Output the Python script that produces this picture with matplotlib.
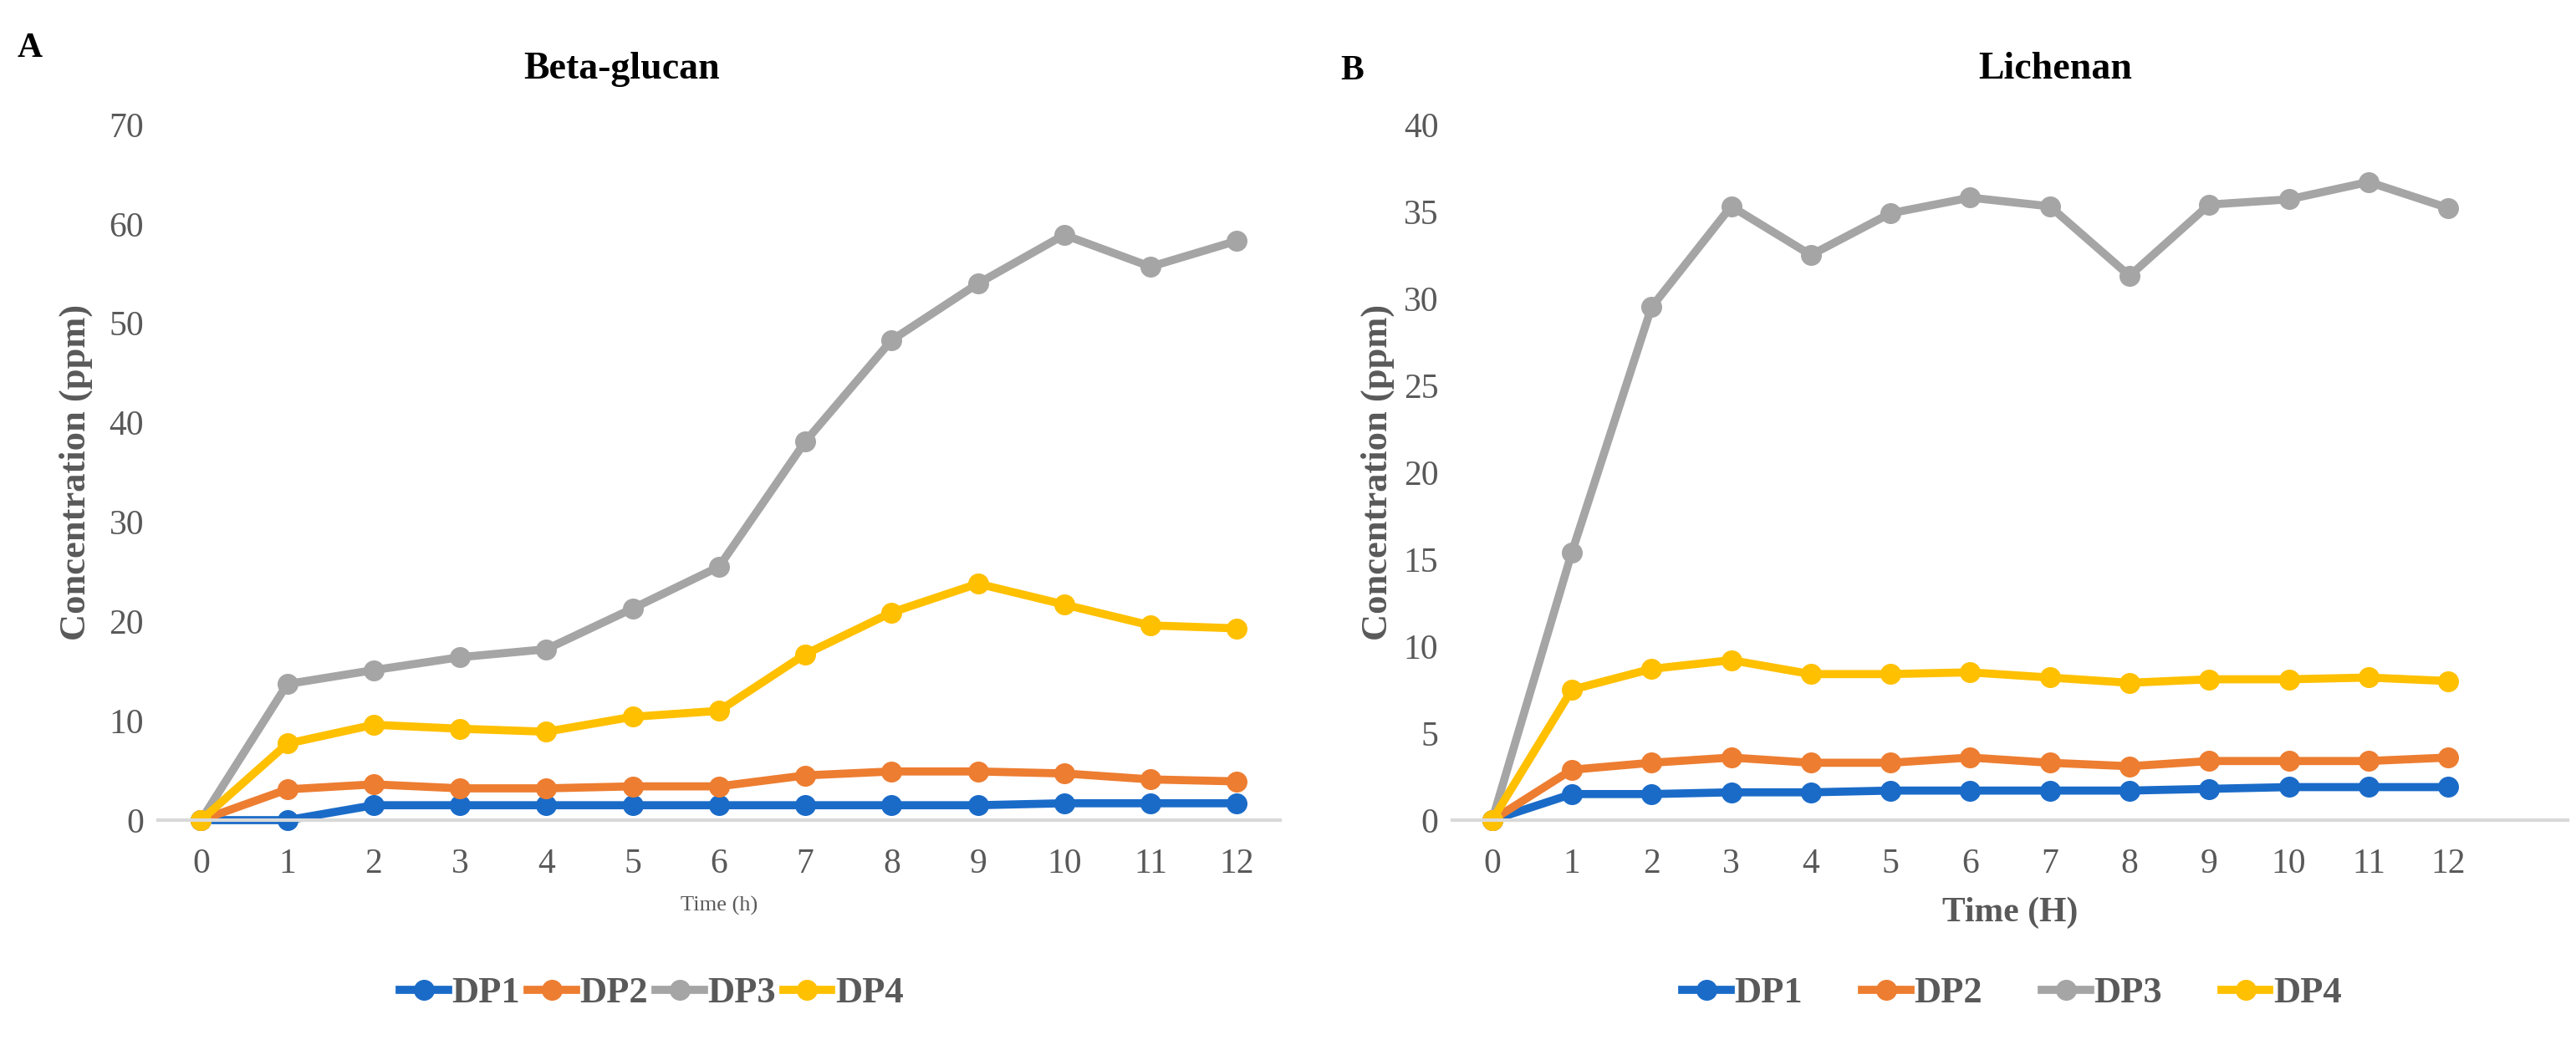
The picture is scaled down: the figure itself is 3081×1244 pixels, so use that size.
import matplotlib
matplotlib.use("Agg")
import matplotlib.pyplot as plt
from matplotlib.lines import Line2D

plt.rcParams['font.family'] = ['Liberation Serif', 'DejaVu Serif']

hours = list(range(13))
series_names = ['DP1', 'DP2', 'DP3', 'DP4']
colors = ['#1a6bc8', '#ed7d31', '#a5a5a5', '#ffc000']

# Beta-glucan (ppm)
bg_dp1 = [0, 0, 1.5, 1.5, 1.5, 1.5, 1.5, 1.5, 1.5, 1.5, 1.7, 1.7, 1.7]
bg_dp2 = [0, 3.1, 3.6, 3.2, 3.2, 3.4, 3.4, 4.5, 4.9, 4.9, 4.7, 4.1, 3.9]
bg_dp3 = [0, 13.7, 15.1, 16.4, 17.2, 21.3, 25.5, 38.1, 48.3, 54.0, 58.9, 55.7, 58.3]
bg_dp4 = [0, 7.7, 9.6, 9.2, 8.9, 10.4, 11.0, 16.7, 20.9, 23.8, 21.7, 19.6, 19.3]

# Lichenan (ppm)
li_dp1 = [0, 1.5, 1.5, 1.6, 1.6, 1.7, 1.7, 1.7, 1.7, 1.8, 1.9, 1.9, 1.9]
li_dp2 = [0, 2.9, 3.3, 3.6, 3.3, 3.3, 3.6, 3.3, 3.1, 3.4, 3.4, 3.4, 3.6]
li_dp3 = [0, 15.4, 29.5, 35.3, 32.5, 34.9, 35.8, 35.3, 31.3, 35.4, 35.7, 36.7, 35.2]
li_dp4 = [0, 7.5, 8.7, 9.2, 8.4, 8.4, 8.5, 8.2, 7.9, 8.1, 8.1, 8.2, 8.0]

grey = '#595959'

fig = plt.figure(figsize=(30.81, 12.44), dpi=100)
ax1 = fig.add_axes([0.0613, 0.2114, 0.4356, 0.6688])
ax2 = fig.add_axes([0.5638, 0.2114, 0.433, 0.6688])


def style_axis(ax, ymax, ystep, xmax, ylabelpad):
    ax.set_xlim(-0.5, xmax)
    ax.set_ylim(0, ymax)
    ax.set_yticks(range(0, ymax + 1, ystep))
    ax.set_xticks(hours)
    for s in ['top', 'right', 'left']:
        ax.spines[s].set_visible(False)
    ax.spines['bottom'].set_color('#d9d9d9')
    ax.spines['bottom'].set_linewidth(3)
    ax.tick_params(length=0, labelsize=30, labelcolor=grey, pad=12)
    ax.tick_params(axis='x', pad=24)
    ax.set_ylabel('Concentration (ppm)', fontsize=32, fontweight='bold', color=grey,
                  labelpad=ylabelpad)


def draw(ax, data):
    for vals, name, c in zip(data, series_names, colors):
        ax.plot(hours, vals, color=c, lw=7, marker='o', ms=17, label=name, clip_on=False)


draw(ax1, [bg_dp1, bg_dp2, bg_dp3, bg_dp4])
style_axis(ax1, 70, 10, 12.5, 14)
ax1.set_xlabel('Time (h)', fontsize=19, color=grey, labelpad=14)

draw(ax2, [li_dp1, li_dp2, li_dp3, li_dp4])
style_axis(ax2, 40, 5, 13.5, 8)
ax2.set_xlabel('Time (H)', fontsize=30, fontweight='bold', color=grey, labelpad=14)

fig.text(0.2415, 0.933, 'Beta-glucan', fontsize=33, fontweight='bold', ha='center', va='center')
fig.text(0.798, 0.933, 'Lichenan', fontsize=33, fontweight='bold', ha='center', va='center')
fig.text(0.0115, 0.953, 'A', fontsize=30, fontweight='bold', ha='center', va='center')
fig.text(0.525, 0.932, 'B', fontsize=30, fontweight='bold', ha='center', va='center')

handles = [Line2D([], [], color=c, lw=7, marker='o', ms=17) for c in colors]
leg_font = {'size': 32, 'weight': 'bold'}
l1 = fig.legend(handles, series_names, loc='center', bbox_to_anchor=(0.253, 0.045), ncol=4,
                frameon=False, prop=leg_font, handlelength=1.3, handletextpad=0.1,
                columnspacing=0.2)
l2 = fig.legend(handles, series_names, loc='center', bbox_to_anchor=(0.781, 0.045), ncol=4,
                frameon=False, prop=leg_font, handlelength=1.3, handletextpad=0.1,
                columnspacing=1.6)
for leg in (l1, l2):
    for t in leg.get_texts():
        t.set_color(grey)

fig.savefig('out.png', dpi=100)
